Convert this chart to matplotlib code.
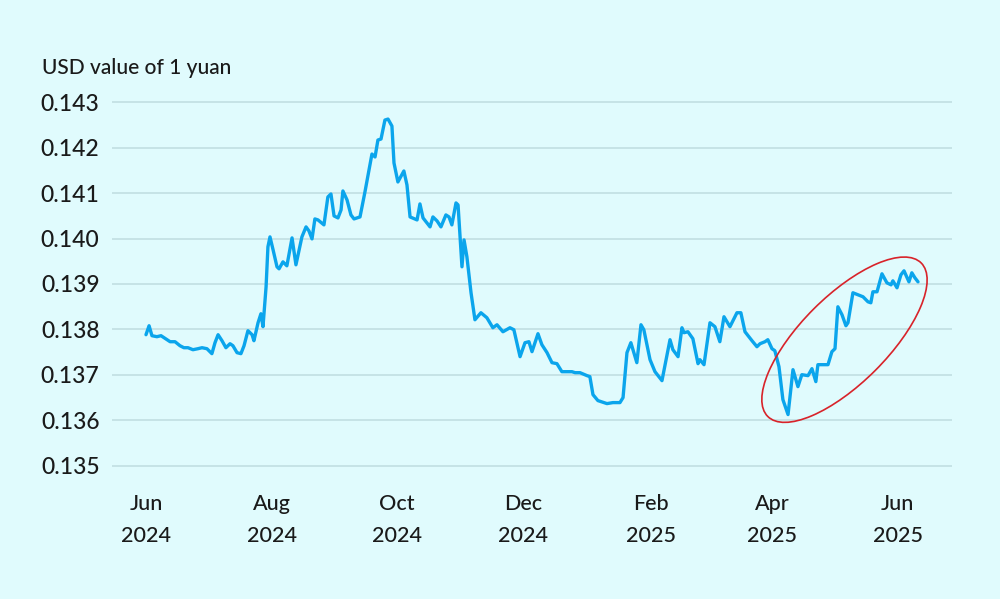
import numpy as np
import pandas as pd
import matplotlib
matplotlib.use("Agg")
import matplotlib.pyplot as plt
from matplotlib.patches import Ellipse
import matplotlib.transforms as mtransforms

# ---- data ----
start_date = "2024-06-01"
days_since_start = [
    0, 1.5, 2.9, 5.3, 7.3, 10.2, 11.7, 14.1, 16.5, 18.4, 20.4, 22.8, 25.2, 27.2, 29.6,
    32.0, 33.5, 35.0, 36.9, 38.8, 40.8, 42.2, 44.2, 46.1, 47.6, 49.5, 51.5, 52.4, 54.4,
    55.8, 56.8, 58.3, 59.2, 60.2, 61.7, 63.6, 64.6, 66.5, 68.4, 70.9, 72.8, 75.7, 77.7,
    79.1, 80.6, 82.0, 83.5, 86.4, 88.3, 89.8, 91.3, 93.2, 94.7, 95.6, 97.6, 99.5, 101.0,
    103.9, 106.3, 109.7, 111.2, 112.6, 114.1, 116.0, 117.5, 119.4, 120.4, 122.3, 125.2,
    126.7, 128.2, 131.6, 133.0, 134.5, 137.9, 139.3, 141.3, 143.2, 145.6, 147.1, 148.5,
    150.5, 151.5, 153.4, 154.4, 155.8, 157.8, 159.7, 162.6, 165.5, 168.4, 170.4, 173.3,
    176.7, 178.6, 181.6, 184.0, 185.9, 187.4, 190.3, 192.2, 194.7, 197.1, 199.5, 201.9,
    206.8, 208.3, 210.7, 214.1, 215.5, 217.0, 219.4, 223.8, 226.7, 230.1, 231.6, 233.5,
    235.4, 238.3, 240.3, 241.7, 244.7, 247.1, 250.5, 254.4, 255.8, 258.3, 260.2, 261.2,
    263.1, 265.5, 268.0, 268.9, 270.9, 273.8, 276.2, 278.6, 280.6, 283.5, 286.9, 288.8,
    290.8, 294.2, 296.6, 298.1, 300.5, 301.9, 303.9, 305.3, 307.3, 309.2, 311.7, 314.1,
    316.5, 318.4, 321.4, 323.3, 325.2, 326.2, 328.6, 331.1, 333.0, 334.5, 335.9, 337.9,
    339.8, 340.8, 343.2, 345.6, 348.1, 350.5, 351.9, 352.9, 354.9, 357.3, 359.7, 361.7,
    362.6, 364.6, 366.5, 368.0, 370.4, 371.8, 373.3, 374.8,
]
usd_per_yuan = [
    0.137885, 0.138082, 0.137863, 0.137841, 0.137863, 0.137775, 0.137731, 0.137731,
    0.137643, 0.137599, 0.137599, 0.137555, 0.137577, 0.137599, 0.137577, 0.137468,
    0.137709, 0.137885, 0.137753, 0.137599, 0.137687, 0.137643, 0.137490, 0.137468,
    0.137643, 0.137973, 0.137885, 0.137753, 0.138148, 0.138346, 0.138061, 0.138939,
    0.139817, 0.140036, 0.139751, 0.139378, 0.139334, 0.139487, 0.139400, 0.140014,
    0.139422, 0.140036, 0.140256, 0.140168, 0.139992, 0.140431, 0.140409, 0.140300,
    0.140914, 0.140980, 0.140497, 0.140453, 0.140629, 0.141046, 0.140849, 0.140519,
    0.140431, 0.140475, 0.141024, 0.141858, 0.141793, 0.142166, 0.142188, 0.142605,
    0.142627, 0.142473, 0.141661, 0.141244, 0.141485, 0.141178, 0.140475, 0.140409,
    0.140761, 0.140453, 0.140256, 0.140475, 0.140387, 0.140256, 0.140519, 0.140475,
    0.140300, 0.140783, 0.140739, 0.139378, 0.139970, 0.139597, 0.138807, 0.138214,
    0.138368, 0.138258, 0.138038, 0.138104, 0.137950, 0.138038, 0.137994, 0.137402,
    0.137709, 0.137731, 0.137512, 0.137907, 0.137665, 0.137490, 0.137270, 0.137248,
    0.137072, 0.137072, 0.137050, 0.137050, 0.136985, 0.136963, 0.136567, 0.136436,
    0.136370, 0.136392, 0.136392, 0.136502, 0.137490, 0.137709, 0.137270, 0.138104,
    0.137994, 0.137336, 0.137072, 0.136875, 0.137775, 0.137555, 0.137402, 0.138038,
    0.137929, 0.137950, 0.137797, 0.137248, 0.137336, 0.137226, 0.138148, 0.138061,
    0.137731, 0.138280, 0.138061, 0.138368, 0.138368, 0.137950, 0.137753, 0.137621,
    0.137687, 0.137731, 0.137775, 0.137577, 0.137533, 0.137182, 0.136458, 0.136129,
    0.137116, 0.136743, 0.137006, 0.136985, 0.137138, 0.136853, 0.137226, 0.137226,
    0.137226, 0.137512, 0.137577, 0.138499, 0.138324, 0.138082, 0.138148, 0.138807,
    0.138763, 0.138719, 0.138609, 0.138587, 0.138829, 0.138829, 0.139224, 0.139026,
    0.138982, 0.139070, 0.138917, 0.139202, 0.139290, 0.139048, 0.139246, 0.139136,
    0.139048,
]
y_ticks = [0.135, 0.136, 0.137, 0.138, 0.139, 0.140, 0.141, 0.142, 0.143]
x_tick_dates = ["2024-06-01", "2024-08-01", "2024-10-01", "2024-12-01",
                "2025-02-01", "2025-04-01", "2025-06-01"]
x_tick_labels = ["Jun\n2024", "Aug\n2024", "Oct\n2024", "Dec\n2024",
                 "Feb\n2025", "Apr\n2025", "Jun\n2025"]
axis_title = "USD value of 1 yuan"

# ---- styling ----
BG = "#e0fbfd"
LINE = "#0ba5ec"
GRID = "#c6e3e6"
TEXT = "#1a1a1a"
FONT = ["Lato", "DejaVu Sans"]

plt.rcParams["font.family"] = FONT
plt.rcParams["font.weight"] = "medium"

dates = pd.to_datetime(start_date) + pd.to_timedelta(days_since_start, unit="D")

fig = plt.figure(figsize=(10, 5.99), dpi=100, facecolor=BG)
ax = fig.add_axes([0.112, 1 - 475 / 599, 0.840, 382 / 599])
ax.set_facecolor(BG)

ax.plot(dates, usd_per_yuan, color=LINE, lw=2.4, solid_joinstyle="round",
        solid_capstyle="round", zorder=3)

ax.set_ylim(0.1348, 0.1432)
x0 = pd.to_datetime(start_date)
ax.set_xlim(x0 - pd.Timedelta(days=16.5), x0 + pd.Timedelta(days=391.3))

ax.set_yticks(y_ticks)
ax.set_yticklabels([f"{t:.3f}" for t in y_ticks], fontsize=16.5, fontweight="medium")
ax.set_xticks(pd.to_datetime(x_tick_dates))
ax.set_xticklabels(x_tick_labels, linespacing=1.75, fontsize=15.5, fontweight="medium")

ax.yaxis.grid(True, color=GRID, lw=1.4, zorder=0)
ax.xaxis.grid(False)
for s in ax.spines.values():
    s.set_visible(False)
ax.tick_params(axis="both", length=0, colors=TEXT)
ax.tick_params(axis="y", pad=9)
ax.tick_params(axis="x", pad=14)

fig.text(0.042, 1 - 68 / 599, axis_title, fontsize=15, color=TEXT,
         va="center", ha="left", fontweight="medium")

# red ellipse highlighting the recent rise
ell_center = (x0 + pd.Timedelta(days=339.1), 0.137775)
offset = mtransforms.ScaledTranslation(
    matplotlib.dates.date2num(ell_center[0]), ell_center[1], ax.transData)
ell = Ellipse((0, 0), width=2.17, height=0.87, angle=45, fill=False,
              edgecolor="#d8232a", lw=1.2, transform=fig.dpi_scale_trans + offset,
              zorder=4)
ax.add_patch(ell)

fig.savefig("out.png", dpi=100, facecolor=BG)
